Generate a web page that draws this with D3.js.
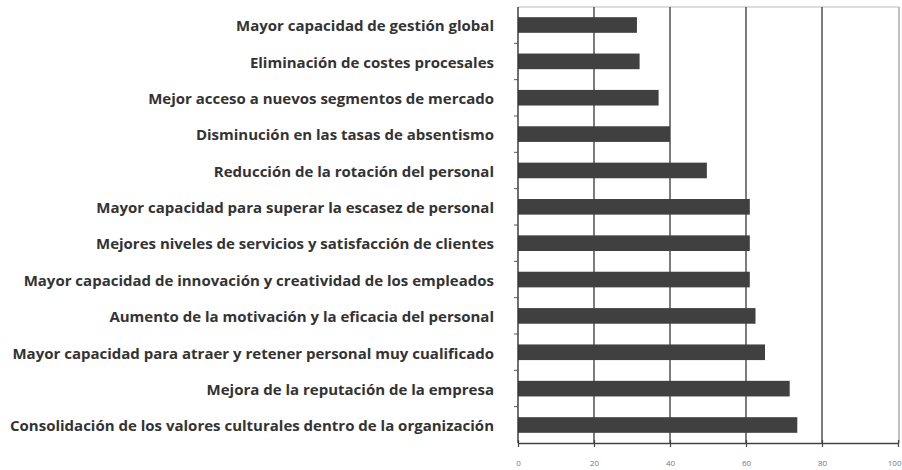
<!DOCTYPE html>
<html><head><meta charset="utf-8">
<script src="https://cdn.jsdelivr.net/npm/d3@7"></script>
<style>body{margin:0;background:#fff}svg{display:block}</style>
</head><body>
<svg id="c" width="902" height="470"></svg>
<script>
const categories = [
  "Mayor capacidad de gestión global",
  "Eliminación de costes procesales",
  "Mejor acceso a nuevos segmentos de mercado",
  "Disminución en las tasas de absentismo",
  "Reducción de la rotación del personal",
  "Mayor capacidad para superar la escasez de personal",
  "Mejores niveles de servicios y satisfacción de clientes",
  "Mayor capacidad de innovación y creatividad de los empleados",
  "Aumento de la motivación y la eficacia del personal",
  "Mayor capacidad para atraer y retener personal muy cualificado",
  "Mejora de la reputación de la empresa",
  "Consolidación de los valores culturales dentro de la organización"
];
const values = [31.3, 32, 37, 40, 49.7, 61, 61, 61, 62.5, 65, 71.5, 73.5];
const xTicks = [0, 20, 40, 60, 80, 100];

const svg = d3.select("#c");
const L = 518, R = 898, T = 7, B = 443;
const x = d3.scaleLinear().domain([0, 100]).range([L, R]);
const y = d3.scaleBand().domain(categories).range([T, B]).paddingInner(0.57).paddingOuter(0.28);

// frame
svg.append("line").attr("x1", L).attr("x2", R + 1).attr("y1", T).attr("y2", T).attr("stroke", "#bbb").attr("stroke-width", 1.2);
svg.append("line").attr("x1", R + 1).attr("x2", R + 1).attr("y1", T).attr("y2", B).attr("stroke", "#999").attr("stroke-width", 1.2);

// gridlines
svg.append("g").selectAll("line").data(xTicks.filter(d => d > 0 && d < 100)).join("line")
  .attr("x1", d => x(d)).attr("x2", d => x(d)).attr("y1", T).attr("y2", B)
  .attr("stroke", "#444").attr("stroke-width", 1.4);

// bars
svg.append("g").selectAll("rect").data(values).join("rect")
  .attr("x", x(0)).attr("y", (d, i) => y(categories[i]))
  .attr("width", d => x(d) - x(0)).attr("height", y.bandwidth())
  .attr("fill", "#404040");

// bottom axis
const xa = svg.append("g").attr("transform", `translate(0,${B})`)
  .call(d3.axisBottom(x).tickValues(xTicks).tickSize(4).tickSizeOuter(0));
xa.select(".domain").attr("stroke", "#444").attr("stroke-width", 1.4);
xa.selectAll(".tick line").attr("stroke", "#444").attr("stroke-width", 1.2).attr("y1", -3).attr("y2", 4);
xa.selectAll(".tick text").attr("y", 17).attr("fill", "#777").attr("font-size", 8).attr("font-family", "Open Sans, sans-serif")
  .attr("text-anchor", d => d === 100 ? "end" : "middle").attr("dx", d => d === 100 ? 3 : 0);

// left axis
svg.append("line").attr("x1", L).attr("x2", L).attr("y1", T).attr("y2", B).attr("stroke", "#333").attr("stroke-width", 1.4);
svg.append("g").selectAll("line").data(d3.range(1, categories.length)).join("line")
  .attr("x1", L - 4).attr("x2", L)
  .attr("y1", i => T + i * (B - T) / categories.length).attr("y2", i => T + i * (B - T) / categories.length)
  .attr("stroke", "#555").attr("stroke-width", 1);

// labels
svg.append("g").selectAll("text").data(categories).join("text")
  .attr("x", 494).attr("y", d => y(d) + y.bandwidth() / 2 + 1)
  .attr("dy", "0.35em").attr("text-anchor", "end")
  .attr("font-family", "Open Sans, sans-serif").attr("font-weight", 700)
  .attr("font-size", 15).attr("fill", "#333")
  .text(d => d);
</script>
</body></html>
